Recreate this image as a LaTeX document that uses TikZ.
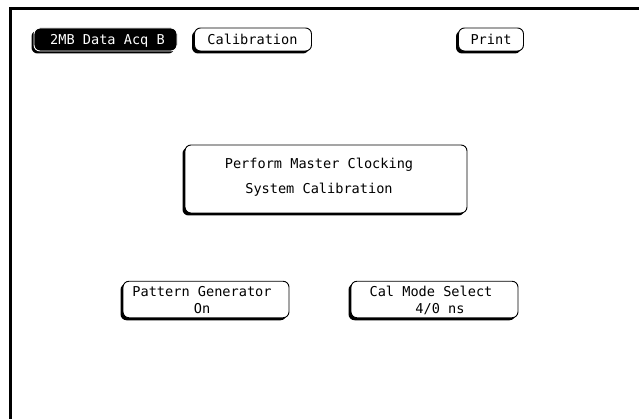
\documentclass[tikz,border=0pt]{standalone}
\usepackage{fontspec}
\setmonofont{DejaVu Sans Mono}
\usetikzlibrary{shadows}
\tikzset{
  btn/.style={draw=black, line width=0.9pt, fill=white, rounded corners=6pt, inner sep=0pt,
    general shadow={fill=black, shadow xshift=-2.5pt, shadow yshift=-2.5pt}},
  btninv/.style={btn, fill=black, draw=white},
  lbl/.style={font=\ttfamily\fontsize{13.6}{14}\selectfont, inner sep=0pt, anchor=base},
  frameline/.style={line width=3pt}
}
\begin{document}
\begin{tikzpicture}[x=1pt,y=-1pt]
\useasboundingbox (0,0) rectangle (639,419);
\fill[white] (0,0) rectangle (639,419);
% frame
\coordinate (fbl) at (10.5,419);
\coordinate (ftl) at (10.5,8.5);
\coordinate (ftr) at (639,8.5);
\draw[frameline] (fbl) -- (ftl) -- (ftr);
% top buttons
\node[btninv, minimum width=143pt, minimum height=23pt] (acq) at (105.5,39.5) {};
\node[lbl, text=white] (acqt) at (107.5,45) {2MB Data Acq B};
\node[btn, minimum width=117pt, minimum height=23pt] (cal) at (253,39.5) {};
\node[lbl] (calt) at (252.5,45) {Calibration};
\node[btn, minimum width=65pt, minimum height=23pt] (prn) at (491,39.5) {};
\node[lbl] (prnt) at (491,45) {Print};
% central box
\node[btn, minimum width=282pt, minimum height=68pt] (perf) at (326,179) {};
\node[lbl] (perf1) at (319,169) {Perform Master Clocking};
\node[lbl] (perf2) at (319,194) {System Calibration};
% bottom buttons
\node[btn, minimum width=166pt, minimum height=36.5pt] (pat) at (206,299.5) {};
\node[lbl] (pat1) at (202,297) {Pattern Generator};
\node[lbl] (pat2) at (202,313) {On};
\node[btn, minimum width=167pt, minimum height=36.5pt] (cms) at (434.5,299.5) {};
\node[lbl] (cms1) at (431,297) {Cal Mode Select};
\node[lbl] (cms2) at (440,313) {4/0 ns};
\end{tikzpicture}
\end{document}
